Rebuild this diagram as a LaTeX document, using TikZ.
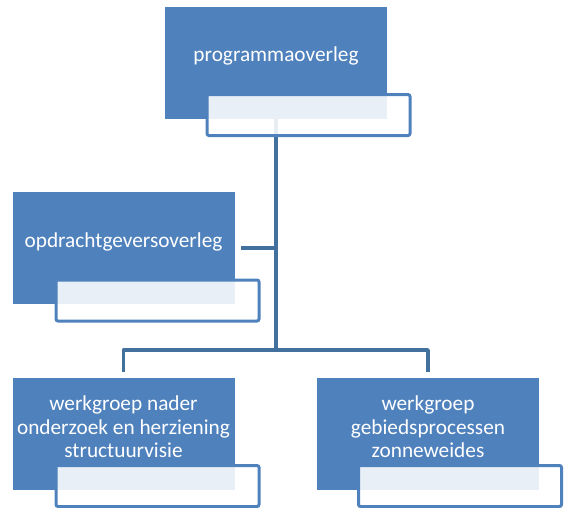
\documentclass[tikz,border=0pt]{standalone}
\usepackage{fontspec}
\setmainfont{Carlito}
\definecolor{boxblue}{HTML}{4F81BD}
\definecolor{connblue}{HTML}{41719C}
\begin{document}
\begin{tikzpicture}[x=1pt,y=-1pt,
  mainbox/.style={draw=none,fill=boxblue,minimum width=222pt,minimum height=112pt,inner sep=0pt},
  subbox/.style={draw=boxblue,line width=3pt,rounded corners=2pt,fill=white,fill opacity=0.88,minimum width=203pt,minimum height=41pt,inner sep=0pt},
  txt/.style={text=white,align=center,font=\fontsize{21.3}{23.5}\selectfont,inner sep=0pt},
  conn/.style={draw=connblue,line width=3.5pt,line join=round}]
\useasboundingbox (0,0) rectangle (566,507);
% main boxes
\node[mainbox] (p) at (276,63) {};
\node[mainbox] (o) at (123.5,248) {};
\node[mainbox] (w1) at (123.5,434) {};
\node[mainbox] (w2) at (428,434) {};
% connectors
\coordinate (j) at (276,350);
\draw[conn] (p.south) -- (j);
\draw[conn,shorten >=6pt] (j) -| (w1.north);
\draw[conn,shorten >=6pt] (j) -| (w2.north);
\draw[conn,shorten >=6pt] (p.south |- o.east) -- (o.east);
% sub boxes
\node[subbox] (ps) at (308.5,115) {};
\node[subbox] (os) at (157.5,300.5) {};
\node[subbox] (w1s) at (157.5,486) {};
\node[subbox] (w2s) at (460,486) {};
% texts
\node[txt] (pt) at (276,56) {programmaoverleg};
\node[txt] (ot) at (123.5,242) {opdrachtgeversoverleg};
\node[txt] (w1t) at (123.5,427) {werkgroep nader\\onderzoek en herziening\\structuurvisie};
\node[txt] (w2t) at (428,427) {werkgroep\\gebiedsprocessen\\zonneweides};
\end{tikzpicture}
\end{document}
